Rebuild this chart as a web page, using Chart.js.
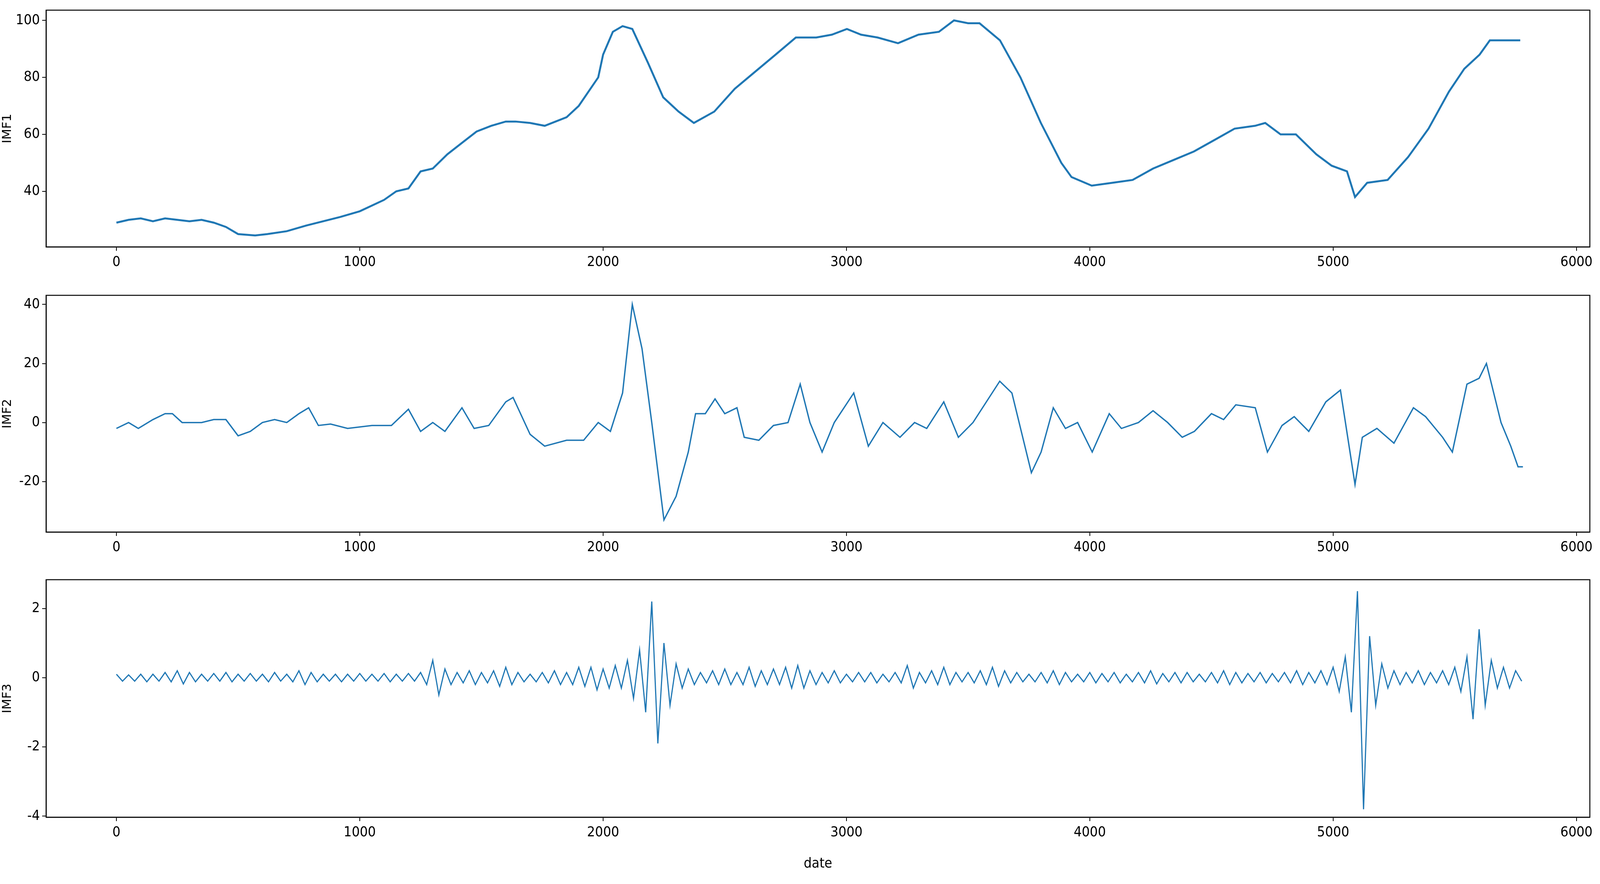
<!DOCTYPE html>
<html><head><meta charset="utf-8">
<script src="https://cdn.jsdelivr.net/npm/chart.js@4/dist/chart.umd.min.js"></script>
<style>html,body{margin:0;padding:0;background:#fff;overflow:hidden}.box{position:absolute;left:0;width:4096px}</style>
</head><body>
<div class="box" style="top:0;height:732px"><canvas id="c1"></canvas></div>
<div class="box" style="top:732px;height:730px"><canvas id="c2"></canvas></div>
<div class="box" style="top:1462px;height:775px"><canvas id="c3"></canvas></div>
<script>
const xTicks=[0,1000,2000,3000,4000,5000,6000];
const imf1X=[0,50,100,150,200,250,300,350,400,450,500,570,620,700,780,850,920,1000,1050,1100,1150,1200,1250,1300,1360,1420,1480,1540,1600,1640,1700,1760,1850,1900,1980,2000,2040,2080,2120,2185,2247,2310,2373,2457,2541,2625,2709,2792,2876,2940,3002,3060,3128,3212,3296,3380,3442,3500,3547,3631,3715,3799,3883,3925,4008,4092,4176,4260,4344,4428,4512,4595,4679,4721,4784,4847,4931,4994,5057,5090,5140,5224,5308,5392,5476,5539,5602,5644,5727,5769];
const imf1Y=[29,30,30.5,29.5,30.5,30,29.5,30,29,27.5,25,24.5,25,26,28,29.5,31,33,35,37,40,41,47,48,53,57,61,63,64.5,64.5,64,63,66,70,80,88,96,98,97,85,73,68,64,68,76,82,88,94,94,95,97,95,94,92,95,96,100,99,99,93,80,64,50,45,42,43,44,48,51,54,58,62,63,64,60,60,53,49,47,38,43,44,52,62,75,83,88,93,93,93];
const imf2X=[0,50,90,150,200,230,270,350,400,450,500,550,600,650,700,750,790,830,880,950,1050,1130,1200,1250,1300,1350,1420,1470,1530,1600,1630,1700,1760,1850,1920,1980,2030,2080,2120,2160,2200,2250,2300,2350,2380,2420,2460,2500,2550,2580,2640,2700,2760,2810,2850,2900,2950,3030,3090,3150,3220,3280,3330,3400,3460,3520,3630,3680,3760,3800,3850,3900,3950,4010,4080,4130,4200,4260,4320,4380,4430,4500,4550,4600,4680,4730,4790,4840,4900,4970,5030,5060,5090,5120,5180,5250,5330,5380,5450,5490,5550,5600,5630,5690,5730,5760,5780];
const imf2Y=[-2,0,-2,1,3,3,0,0,1,1,-4.5,-3,0,1,0,3,5,-1,-0.5,-2,-1,-1,4.5,-3,0,-3,5,-2,-1,7,8.5,-4,-8,-6,-6,0,-3,10,40,25,0,-33,-25,-10,3,3,8,3,5,-5,-6,-1,0,13,0,-10,0,10,-8,0,-5,0,-2,7,-5,0,14,10,-17,-10,5,-2,0,-10,3,-2,0,4,0,-5,-3,3,1,6,5,-10,-1,2,-3,7,11,-5,-21,-5,-2,-7,5,2,-5,-10,13,15,20,0,-8,-15,-15];
const imf3Step=25;
const imf3Y=[0.1,-0.1,0.08,-0.1,0.1,-0.12,0.1,-0.1,0.15,-0.12,
0.2,-0.18,0.15,-0.12,0.1,-0.1,0.12,-0.1,0.15,-0.12,
0.1,-0.1,0.12,-0.1,0.1,-0.12,0.15,-0.1,0.1,-0.12,
0.2,-0.2,0.15,-0.12,0.1,-0.1,0.1,-0.12,0.1,-0.1,
0.12,-0.1,0.1,-0.1,0.12,-0.12,0.1,-0.1,0.12,-0.1,
0.15,-0.2,0.5,-0.5,0.25,-0.2,0.15,-0.15,0.2,-0.2,
0.15,-0.15,0.2,-0.25,0.3,-0.2,0.15,-0.12,0.1,-0.12,
0.15,-0.15,0.2,-0.2,0.15,-0.2,0.3,-0.25,0.3,-0.35,
0.25,-0.3,0.35,-0.3,0.5,-0.6,0.8,-1.0,2.2,-1.9,
1.0,-0.8,0.4,-0.3,0.25,-0.2,0.15,-0.15,0.2,-0.2,
0.25,-0.2,0.15,-0.2,0.3,-0.25,0.2,-0.2,0.25,-0.2,
0.3,-0.3,0.35,-0.3,0.2,-0.2,0.15,-0.15,0.2,-0.15,
0.1,-0.12,0.15,-0.12,0.15,-0.15,0.1,-0.12,0.15,-0.15,
0.35,-0.3,0.15,-0.15,0.2,-0.2,0.3,-0.2,0.15,-0.12,
0.15,-0.15,0.2,-0.2,0.3,-0.25,0.2,-0.15,0.15,-0.12,
0.1,-0.12,0.15,-0.15,0.2,-0.2,0.15,-0.12,0.1,-0.12,
0.15,-0.15,0.12,-0.12,0.15,-0.15,0.1,-0.12,0.15,-0.15,
0.2,-0.18,0.12,-0.12,0.15,-0.15,0.15,-0.12,0.1,-0.12,
0.15,-0.15,0.2,-0.2,0.15,-0.15,0.12,-0.12,0.15,-0.15,
0.12,-0.12,0.15,-0.15,0.2,-0.2,0.15,-0.15,0.2,-0.2,
0.3,-0.4,0.6,-1.0,2.5,-3.8,1.2,-0.8,0.4,-0.3,
0.2,-0.2,0.15,-0.15,0.2,-0.2,0.15,-0.15,0.2,-0.2,
0.3,-0.4,0.6,-1.2,1.4,-0.8,0.5,-0.3,0.3,-0.3,
0.2,-0.1];
const yTicks1=[40,60,80,100],yTicks2=[-20,0,20,40],yTicks3=[-4,-2,0,2];

const FONT='"DejaVu Sans Condensed","Liberation Sans Narrow",sans-serif';
Chart.defaults.font.family=FONT;Chart.defaults.color='#000';
const frame={id:'frame',afterDraw(c){const a=c.chartArea,g=c.ctx;g.save();g.strokeStyle='#000';g.lineWidth=2.5;g.strokeRect(a.left,a.top,a.right-a.left,a.bottom-a.top);g.restore();}};
function make(id,padTop,xs,ys,ymin,ymax,yt,label,lw,xAxisH,title){
  new Chart(document.getElementById(id),{type:'line',data:{datasets:[{data:xs.map((x,i)=>({x,y:ys[i]})),borderColor:'#1f77b4',borderWidth:lw,pointRadius:0,tension:0}]},
  options:{responsive:true,maintainAspectRatio:false,animation:false,devicePixelRatio:1,layout:{padding:{top:padTop,right:26,left:0,bottom:0}},
  plugins:{legend:{display:false},tooltip:{enabled:false}},
  scales:{x:{type:'linear',min:-289,max:6055,afterBuildTicks:s=>{s.ticks=xTicks.map(v=>({value:v}))},
    grid:{drawOnChartArea:false,tickLength:10,color:'#000',lineWidth:2},border:{color:'#000',width:2.5},
    ticks:{font:{size:36},padding:8,maxRotation:0,callback:v=>String(v)},afterFit:s=>{s.height=xAxisH;s.paddingLeft=0;s.paddingRight=0},
    title:{display:!!title,text:title||'',font:{size:36},padding:{top:4,bottom:4}}},
   y:{min:ymin,max:ymax,afterBuildTicks:s=>{s.ticks=yt.map(v=>({value:v}))},
    grid:{drawOnChartArea:false,tickLength:10,color:'#000',lineWidth:2},border:{color:'#000',width:2.5},
    ticks:{font:{size:36},padding:6,callback:v=>String(v)},afterFit:s=>{s.width=118;s.paddingTop=0;s.paddingBottom=0},
    title:{display:true,text:label,font:{size:32,family:'"DejaVu Sans",sans-serif'},padding:{top:0,bottom:0}}}}},plugins:[frame]});
}
const imf3X=imf3Y.map((_,i)=>i*imf3Step);
make('c1',26,imf1X,imf1Y,20.5,103.6,yTicks1,'IMF1',5,100);
make('c2',24,imf2X,imf2Y,-37.1,43.1,yTicks2,'IMF2',3.5,100);
make('c3',22,imf3X,imf3Y,-4.03,2.83,yTicks3,'IMF3',3,145,'date');
</script></body></html>
